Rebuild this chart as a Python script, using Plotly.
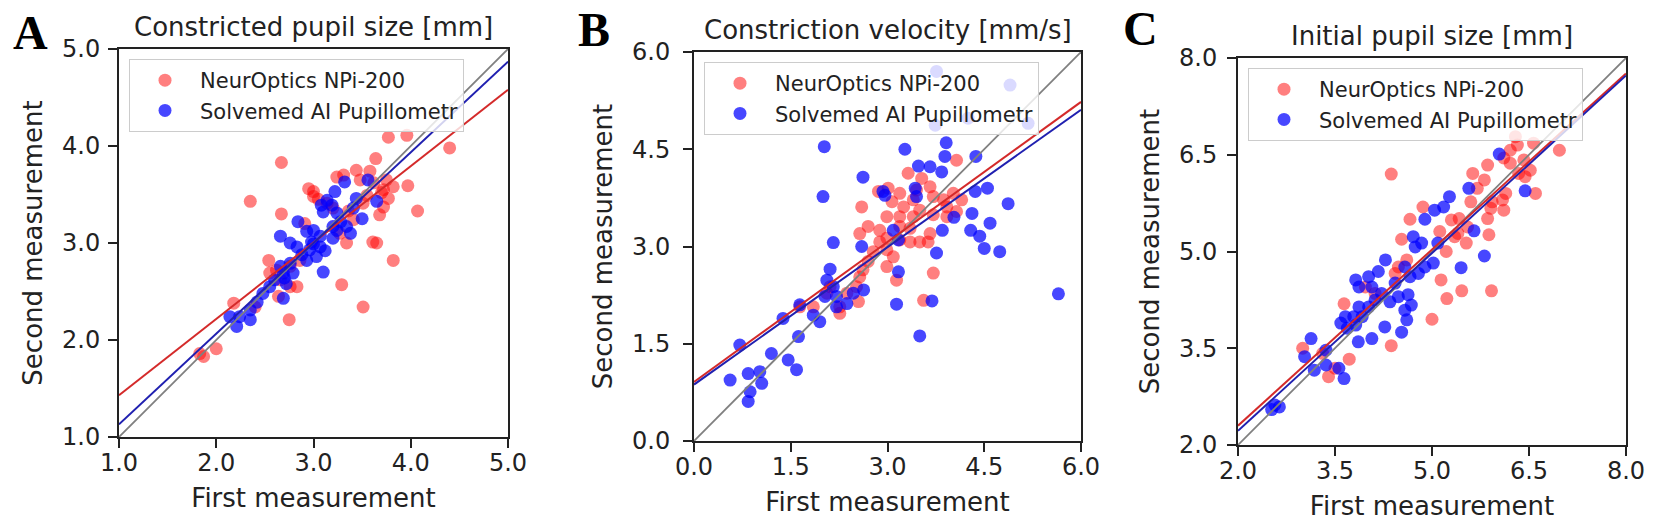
import plotly.graph_objects as go

W, H = 1654, 530

# ---- Panel A: constricted pupil size [mm] ----
a_npi_x = [3.77, 3.96, 4.40, 2.67, 3.64, 3.44, 3.58, 3.24, 3.31, 2.95, 3.00, 3.82, 3.97, 3.72,
           3.77, 2.35, 4.07, 3.68, 3.72, 2.67, 2.91, 3.65, 3.61, 3.82, 3.29, 3.51, 2.75, 2.54,
           2.62, 2.66, 2.83, 2.76, 2.64, 2.18, 2.40, 2.00, 1.83, 1.87, 3.20, 3.41, 3.27, 3.34,
           2.86, 2.76, 3.00, 3.14, 3.51, 3.55, 3.75, 3.48, 2.55, 3.70, 3.62, 3.36, 3.05]
a_npi_y = [4.09, 4.11, 3.98, 3.83, 3.87, 3.75, 3.74, 3.68, 3.70, 3.56, 3.53, 3.58, 3.59, 3.55,
           3.46, 3.43, 3.33, 3.29, 3.37, 3.30, 3.20, 3.00, 3.01, 2.82, 2.57, 2.34, 2.21, 2.82,
           2.72, 2.62, 2.55, 2.55, 2.45, 2.38, 2.34, 1.91, 1.86, 1.83, 3.36, 3.24, 3.10, 3.00,
           2.82, 2.76, 3.48, 3.41, 3.41, 3.49, 3.65, 3.65, 2.69, 3.52, 3.62, 3.33, 3.45]
a_sol_x = [3.32, 3.56, 3.65, 3.22, 3.14, 3.08, 3.19, 3.10, 3.24, 3.44, 3.41, 3.50, 3.34, 3.38,
           3.20, 3.20, 3.07, 3.00, 2.93, 2.66, 2.76, 2.83, 2.96, 3.07, 3.03, 2.93, 3.10, 2.76,
           2.66, 2.69, 2.79, 2.60, 2.72, 2.55, 2.48, 2.69, 2.42, 2.35, 2.24, 2.14, 2.35, 2.21,
           2.84, 2.98, 3.24, 3.12, 2.88, 3.28, 2.70, 3.00]
a_sol_y = [3.63, 3.65, 3.43, 3.53, 3.44, 3.39, 3.39, 3.32, 3.31, 3.46, 3.36, 3.25, 3.17, 3.10,
           3.17, 3.05, 3.07, 3.13, 3.12, 3.07, 3.00, 2.96, 2.93, 2.96, 2.86, 2.82, 2.70, 2.79,
           2.76, 2.69, 2.69, 2.62, 2.58, 2.55, 2.48, 2.43, 2.39, 2.31, 2.24, 2.24, 2.21, 2.14,
           3.22, 3.01, 3.13, 2.92, 2.88, 3.22, 2.64, 2.99]
a_fit_npi = [1.43, 4.58]
a_fit_sol = [1.13, 4.87]

# ---- Panel B: constriction velocity [mm/s] ----
b_npi_x = [4.07, 3.32, 3.53, 3.66, 3.01, 2.60, 3.07, 3.25, 3.40, 3.71, 3.87, 4.02, 4.15, 3.92,
           4.07, 3.71, 3.50, 3.40, 3.19, 2.99, 2.70, 2.57, 2.88, 2.99, 3.19, 3.35, 3.50, 3.63,
           3.66, 2.88, 2.99, 3.09, 2.99, 2.70, 2.62, 3.14, 3.71, 3.56, 2.57, 2.52, 2.55, 2.37,
           2.26, 2.26, 2.11, 2.06, 1.85, 1.64, 2.86, 3.19, 3.45, 3.92, 3.35, 2.78, 3.19]
b_npi_y = [4.33, 4.13, 4.05, 3.92, 3.90, 3.61, 3.69, 3.61, 3.72, 3.77, 3.72, 3.82, 3.72, 3.46,
           3.54, 3.49, 3.56, 3.46, 3.46, 3.46, 3.31, 3.20, 3.25, 3.13, 3.10, 3.07, 3.07, 3.07,
           3.20, 3.07, 2.95, 2.84, 2.69, 2.77, 2.64, 2.48, 2.59, 2.17, 2.53, 2.38, 2.15, 2.28,
           2.07, 1.97, 2.38, 2.28, 2.07, 2.07, 3.85, 3.82, 3.87, 3.61, 3.28, 2.92, 3.31]
b_sol_x = [3.76, 4.90, 4.25, 5.18, 3.74, 2.02, 3.27, 3.91, 3.89, 4.37, 3.48, 3.66, 3.84, 2.62,
           2.93, 2.96, 3.43, 3.45, 2.00, 4.36, 4.55, 4.87, 4.31, 4.03, 4.59, 4.29, 4.43, 4.50,
           4.74, 3.85, 3.76, 3.09, 3.17, 2.60, 2.16, 3.17, 2.63, 3.14, 3.69, 3.50, 5.65, 2.11,
           2.06, 2.16, 2.03, 2.21, 2.37, 2.47, 2.21, 1.85, 1.95, 1.64, 1.62, 1.38, 1.20, 1.46,
           1.59, 0.71, 0.56, 0.84, 1.02, 1.05, 0.87, 0.84]
b_sol_y = [5.70, 5.49, 4.98, 4.90, 4.87, 4.54, 4.50, 4.60, 4.39, 4.39, 4.24, 4.23, 4.15, 4.07,
           3.85, 3.79, 3.90, 3.77, 3.77, 3.85, 3.90, 3.66, 3.51, 3.45, 3.36, 3.25, 3.16, 2.97,
           2.92, 3.25, 2.90, 3.25, 3.10, 3.00, 3.06, 2.61, 2.33, 2.11, 2.16, 1.62, 2.27, 2.65,
           2.48, 2.38, 2.23, 2.23, 2.12, 2.28, 2.07, 1.94, 1.84, 2.10, 1.61, 1.89, 1.35, 1.25,
           1.10, 1.48, 0.94, 1.04, 1.07, 0.89, 0.76, 0.61]
b_fit_npi = [0.91, 5.23]
b_fit_sol = [0.87, 5.11]

# ---- Panel C: initial pupil size [mm] ----
c_npi_x = [6.29, 6.32, 6.57, 6.97, 6.11, 6.21, 6.42, 6.52, 6.44, 6.34, 6.60, 6.14, 6.11, 5.86,
           5.63, 5.81, 5.70, 5.60, 5.93, 5.91, 5.86, 5.88, 4.37, 4.86, 4.66, 4.53, 5.12, 5.30,
           5.42, 5.35, 5.53, 5.22, 5.14, 5.46, 5.92, 5.23, 5.00, 4.37, 4.48, 3.64, 3.72, 3.40,
           3.00, 3.31, 3.50, 4.12, 3.97, 4.43, 4.61, 5.40, 5.55, 6.21, 6.09]
c_npi_y = [6.78, 6.65, 6.68, 6.57, 6.45, 6.37, 6.42, 6.26, 6.16, 6.21, 5.90, 5.90, 5.64, 6.34,
           6.21, 6.11, 5.98, 5.77, 5.77, 5.67, 5.51, 5.26, 6.20, 5.69, 5.50, 5.19, 5.31, 5.49,
           5.51, 5.23, 5.13, 5.00, 4.56, 4.39, 4.39, 4.27, 3.95, 3.54, 4.76, 4.19, 3.33, 3.06,
           3.50, 3.42, 3.19, 4.35, 4.45, 4.66, 4.87, 5.28, 5.38, 6.57, 5.80]
c_sol_x = [6.04, 6.44, 5.57, 5.27, 5.18, 5.04, 4.89, 5.65, 5.81, 5.45, 5.09, 5.02, 4.89, 4.71,
           4.74, 4.84, 4.58, 4.66, 4.79, 4.28, 4.17, 4.02, 3.82, 3.87, 4.07, 4.43, 4.22, 4.12,
           4.35, 4.48, 4.63, 4.68, 4.58, 4.02, 3.87, 3.79, 3.92, 3.66, 3.59, 3.69, 3.82, 4.61,
           4.27, 4.53, 4.07, 3.86, 3.13, 3.03, 3.18, 3.36, 3.56, 3.64, 3.36, 2.57, 2.64, 2.52]
c_sol_y = [6.51, 5.94, 5.98, 5.85, 5.69, 5.64, 5.50, 5.32, 4.93, 4.75, 5.13, 4.82, 4.76, 5.23,
           5.07, 5.13, 4.76, 4.61, 4.66, 4.87, 4.69, 4.61, 4.56, 4.45, 4.45, 4.51, 4.35, 4.25,
           4.22, 4.30, 4.33, 4.17, 4.09, 4.14, 4.14, 3.99, 3.99, 3.99, 3.89, 3.81, 3.86, 3.94,
           3.83, 3.75, 3.65, 3.60, 3.65, 3.37, 3.16, 3.24, 3.19, 3.03, 3.47, 2.62, 2.59, 2.55]
c_fit_npi = [2.30, 7.76]
c_fit_sol = [2.22, 7.73]

titles = ["Constricted pupil size [mm]", "Constriction velocity [mm/s]", "Initial pupil size [mm]"]
letters = ["A", "B", "C"]
ranges = [[1.0, 5.0], [0.0, 6.0], [2.0, 8.0]]
ticks = [[1.0, 2.0, 3.0, 4.0, 5.0], [0.0, 1.5, 3.0, 4.5, 6.0], [2.0, 3.5, 5.0, 6.5, 8.0]]
names = ["NeurOptics NPi-200", "Solvemed AI Pupillometr"]

panels = [
    (a_npi_x, a_npi_y, a_sol_x, a_sol_y, a_fit_npi, a_fit_sol),
    (b_npi_x, b_npi_y, b_sol_x, b_sol_y, b_fit_npi, b_fit_sol),
    (c_npi_x, c_npi_y, c_sol_x, c_sol_y, c_fit_npi, c_fit_sol),
]

# plot boxes in page pixels (left, right, top, bottom)
boxes = [(119, 508, 49, 437), (694, 1081, 52, 441), (1238, 1626, 58, 445)]
letter_pos = [(30, 33), (594, 30), (1140, 29)]
ylab_gap = [3, 8, 5]

FONT = "DejaVu Sans"
INK = "#222222"


def px(x):
    return x / W


def py(y):
    return 1 - y / H


fig = go.Figure()
layout = dict(
    width=W, height=H,
    margin=dict(l=0, r=0, t=0, b=0),
    paper_bgcolor="white", plot_bgcolor="white",
    font=dict(family=FONT, color=INK),
    showlegend=True,
    annotations=[],
)

for i, (nx, ny, sx, sy, fit_n, fit_s) in enumerate(panels):
    k = "" if i == 0 else str(i + 1)
    xa, ya = "x" + k, "y" + k
    leg = "legend" + k
    rng = ranges[i]

    fig.add_trace(go.Scatter(
        x=nx, y=ny, mode="markers", name=names[0], xaxis=xa, yaxis=ya, legend=leg,
        marker=dict(color="red", size=13, opacity=0.5, line=dict(width=0)),
    ))
    fig.add_trace(go.Scatter(
        x=sx, y=sy, mode="markers", name=names[1], xaxis=xa, yaxis=ya, legend=leg,
        marker=dict(color="blue", size=13, opacity=0.72, line=dict(width=0)),
    ))
    # identity line and fitted lines
    fig.add_trace(go.Scatter(
        x=rng, y=rng, mode="lines", showlegend=False, xaxis=xa, yaxis=ya,
        line=dict(color="#808080", width=1.8),
    ))
    fig.add_trace(go.Scatter(
        x=rng, y=fit_n, mode="lines", showlegend=False, xaxis=xa, yaxis=ya,
        line=dict(color="#d42a2a", width=2),
    ))
    fig.add_trace(go.Scatter(
        x=rng, y=fit_s, mode="lines", showlegend=False, xaxis=xa, yaxis=ya,
        line=dict(color="#2020b0", width=2),
    ))

    l, r, t, b = boxes[i]
    axis_common = dict(
        range=rng, tickvals=ticks[i], tickformat=".1f",
        showgrid=False, zeroline=False, showline=True, mirror=True,
        linecolor=INK, linewidth=2, ticks="outside", ticklen=9, tickwidth=2,
        tickcolor=INK, tickfont=dict(size=24, family=FONT, color=INK),
        automargin=False,
    )
    layout["xaxis" + k] = dict(
        axis_common, domain=[px(l), px(r)], anchor=ya, ticklabelstandoff=-6,
        title=dict(text="First measurement", font=dict(size=26), standoff=13),
    )
    layout["yaxis" + k] = dict(
        axis_common, domain=[py(b), py(t)], anchor=xa,
        ticklabelstandoff=ylab_gap[i],
        title=dict(text="Second measurement", font=dict(size=26), standoff=12),
    )
    layout[leg] = dict(
        x=px(l + 10), y=py(t + 10), xanchor="left", yanchor="top",
        bgcolor="rgba(255,255,255,0.8)", bordercolor="#cccccc", borderwidth=1,
        font=dict(size=21, family=FONT, color=INK), itemwidth=60,
    )
    layout["annotations"].append(dict(
        text=titles[i], x=px((l + r) / 2), y=py(t - 22), xref="paper", yref="paper",
        xanchor="center", yanchor="middle", showarrow=False,
        font=dict(size=26, family=FONT, color=INK),
    ))
    lx, ly = letter_pos[i]
    layout["annotations"].append(dict(
        text="<b>" + letters[i] + "</b>", x=px(lx), y=py(ly), xref="paper", yref="paper",
        xanchor="center", yanchor="middle", showarrow=False,
        font=dict(size=48, family="Liberation Serif", color="black"),
    ))

fig.update_layout(**layout)
# drop the default 8px page margin so the figure fills the window exactly
fig.write_html("out.html", config={"displayModeBar": False},
               post_script="document.body.style.margin = '0';")
